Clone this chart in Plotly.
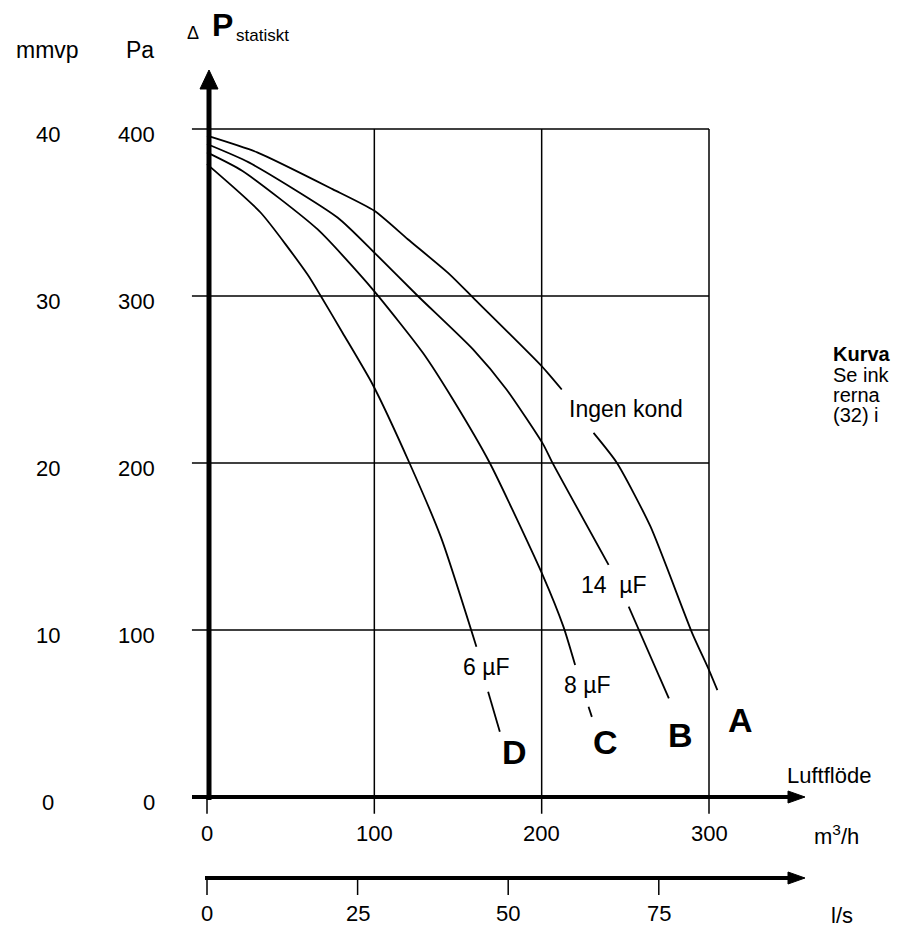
import plotly.graph_objects as go

# ---------------- data ----------------
flow_A = [0, 30, 75, 100, 120, 145, 160, 200, 212, None, 231, 245, 265, 290, 300, 305]
dp_A   = [396, 386, 364, 351, 334, 313, 298, 258, 244, None, 218, 200, 162, 98, 76, 64]

flow_B = [0, 25, 78, 100, 126, 159, 179, 201, 206, 240, None, 252, 276]
dp_B   = [391, 380, 347, 326, 300, 268, 244, 211, 201, 139, None, 114, 59]

flow_C = [0, 21, 66, 99, 129, 147, 169, 201, 213, 220, None, 228, 230]
dp_C   = [386, 375, 340, 304, 266, 238, 200, 132, 102, 79, None, 54, 48]

flow_D = [0, 32, 60, 68, 81, 99, 121, 140, 161, None, 168, 175]
dp_D   = [379, 350, 313, 300, 278, 247, 200, 155, 90, None, 63, 39]

x_ticks_m3h = [0, 100, 200, 300]
x_ticks_ls = [0, 25, 50, 75]
y_ticks_pa = [0, 100, 200, 300, 400]
y_ticks_mmvp = [0, 10, 20, 30, 40]
grid_x = [100, 200, 300]
grid_y = [100, 200, 300, 400]
LS_TO_M3H = 3.6      # 1 l/s = 3.6 m3/h
PA_PER_MMVP = 10

# ---------------- layout geometry ----------------
W, H = 899, 929
X0_PX, X300_PX = 207, 709
Y0_PX, Y400_PX = 797, 129
KX = (X300_PX - X0_PX) / 300.0
KY = (Y0_PX - Y400_PX) / 400.0
XMIN, XMAX = -15, 360
YMIN, YMAX = -15, 440
left_px = X0_PX + XMIN * KX
right_px = X0_PX + XMAX * KX
bottom_px = Y0_PX - YMIN * KY
top_px = Y0_PX - YMAX * KY

def PX(px):
    return px / W

def PY(py):
    return 1 - py / H

FONT = "Liberation Sans, Arial, Helvetica, sans-serif"
BLACK = "#000000"

fig = go.Figure()
for fx, fy in [(flow_A, dp_A), (flow_B, dp_B), (flow_C, dp_C), (flow_D, dp_D)]:
    fig.add_trace(go.Scatter(x=fx, y=fy, mode="lines", connectgaps=False,
                             line=dict(color=BLACK, width=1.8, shape="spline", smoothing=0.6),
                             showlegend=False, hoverinfo="skip"))

shapes = []
# grid
for gy in grid_y:
    shapes.append(dict(type="line", xref="x", yref="y", x0=-9, x1=300, y0=gy, y1=gy,
                       line=dict(color=BLACK, width=1.5)))
for gx in [0] + grid_x:
    shapes.append(dict(type="line", xref="x", yref="y", x0=gx, x1=gx,
                       y0=-10, y1=(0 if gx == 0 else 400),
                       line=dict(color=BLACK, width=1.5)))
# main axes (thick, with arrows)
shapes.append(dict(type="line", xref="paper", yref="paper", x0=PX(209), x1=PX(209),
                   y0=PY(800), y1=PY(86), line=dict(color=BLACK, width=5)))
shapes.append(dict(type="path", xref="paper", yref="paper",
                   path=f"M {PX(200)},{PY(89)} L {PX(209)},{PY(70)} L {PX(218)},{PY(89)} Z",
                   fillcolor=BLACK, line=dict(color=BLACK, width=1)))
for ay in [797, 878]:
    shapes.append(dict(type="line", xref="paper", yref="paper",
                       x0=PX(192 if ay == 797 else 205), x1=PX(792), y0=PY(ay), y1=PY(ay),
                       line=dict(color=BLACK, width=4)))
    shapes.append(dict(type="path", xref="paper", yref="paper",
                       path=f"M {PX(788)},{PY(ay-6)} L {PX(805)},{PY(ay)} L {PX(788)},{PY(ay+6)} Z",
                       fillcolor=BLACK, line=dict(color=BLACK, width=1)))
# l/s ticks
for t in x_ticks_ls:
    shapes.append(dict(type="line", xref="x", yref="paper", x0=t * LS_TO_M3H, x1=t * LS_TO_M3H,
                       y0=PY(878), y1=PY(895), line=dict(color=BLACK, width=1.5)))

ann = []
def txt(text, x, y, size, xref="paper", yref="paper", xanchor="center", yanchor="middle", bold=False, yshift=0):
    if bold:
        text = f"<b>{text}</b>"
    ann.append(dict(text=text, x=x, y=y, xref=xref, yref=yref, xanchor=xanchor, yanchor=yanchor,
                    showarrow=False, yshift=yshift, font=dict(family=FONT, size=size, color=BLACK)))

# y tick labels
for v in y_ticks_pa:
    txt(str(v), PX(157), v, 22, yref="y", xanchor="right", yshift=-5)
for v in y_ticks_mmvp:
    txt(str(v), PX(48), v * PA_PER_MMVP, 22, yref="y", yshift=-5)
# x tick labels
for v in x_ticks_m3h:
    txt(str(v), v, PY(833), 22, xref="x")
for v in x_ticks_ls:
    txt(str(v), v * LS_TO_M3H, PY(913), 22, xref="x")

# headers
txt("mmvp", PX(47), PY(50), 23)
txt("Pa", PX(140), PY(50), 23)
txt("Δ", PX(193), PY(33), 18)
txt("P", PX(222), PY(25), 32, bold=True)
txt("statiskt", PX(234), PY(36), 17, xanchor="left")

# curve labels
txt("Ingen kond", PX(626), PY(409), 23)
txt("14\u00a0\u00a0µF", PX(614), PY(585), 23)
txt("8\u00a0µF", PX(587), PY(685), 23)
txt("6\u00a0µF", PX(486), PY(667), 23)
txt("D", PX(514), PY(752), 34, bold=True)
txt("C", PX(605), PY(742), 34, bold=True)
txt("B", PX(680), PY(735), 34, bold=True)
txt("A", PX(740), PY(720), 34, bold=True)

# axis names
txt("Luftflöde", PX(785), PY(775), 22, xanchor="left")
txt("m<sup>3</sup>/h", PX(836), PY(835), 22)
txt("l/s", PX(842), PY(915), 22)

# side note (cut at the right edge)
txt("Kurva", PX(831), PY(354), 20, xanchor="left", bold=True)
txt("Se ink", PX(831), PY(375), 20, xanchor="left")
txt("rerna", PX(831), PY(395), 20, xanchor="left")
txt("(32) i", PX(831), PY(415), 20, xanchor="left")

fig.update_layout(
    width=W, height=H,
    margin=dict(l=0, r=0, t=0, b=0),
    paper_bgcolor="white", plot_bgcolor="white",
    xaxis=dict(range=[XMIN, XMAX], domain=[PX(left_px), PX(right_px)], visible=False, fixedrange=True),
    yaxis=dict(range=[YMIN, YMAX], domain=[PY(bottom_px), PY(top_px)], visible=False, fixedrange=True),
    shapes=shapes,
    annotations=ann,
    showlegend=False,
)

fig.write_html("out.html", config={"displayModeBar": False},
               post_script="document.body.style.margin='0px';document.body.style.padding='0px';document.body.style.overflow='hidden';")
